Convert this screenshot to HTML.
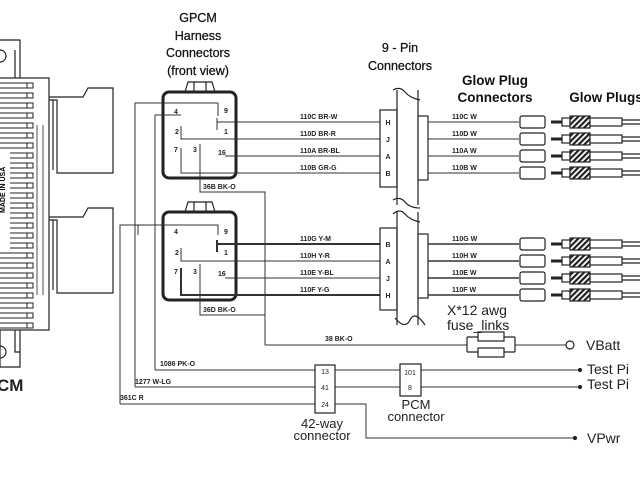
<!DOCTYPE html>
<html><head><meta charset="utf-8"><style>
html,body{margin:0;padding:0;background:#fff;width:640px;height:480px;overflow:hidden}
svg{display:block;font-family:"Liberation Sans",sans-serif}
.s{font-size:7px;font-weight:bold}
</style></head><body>
<svg width="640" height="480" viewBox="0 0 640 480" xmlns="http://www.w3.org/2000/svg">
<rect width="640" height="480" fill="#fff"/>
<defs>
<pattern id="h" width="4" height="4" patternUnits="userSpaceOnUse" patternTransform="rotate(45)"><rect width="4" height="4" fill="#fff"/><rect width="2.2" height="4" fill="#222"/></pattern>
</defs>
<g fill="none" stroke="#222" stroke-width="1.2">
<path d="M0,40 H20 V78"/><path d="M15,50 V78"/>
<rect x="-2" y="78" width="51" height="252"/>
<path d="M0,330 V367 H20 V330"/><path d="M15,330 V352 H20"/>
<circle cx="0" cy="56" r="6"/><circle cx="0" cy="352" r="6"/>
<path d="M49,97 H83 L88,88 H113 V173 H57 V100 H49"/><path d="M53,100 V170"/>
<path d="M49,217 H83 L88,208 H113 V293 H57 V220 H49"/><path d="M53,220 V290"/>
<path d="M37,125 V295 M43,125 V295" stroke-width="0.8"/>
</g>
<g stroke="#222" stroke-width="1" fill="#fff">
<g id="t"><rect x="-2" y="83" width="33" height="5"/><rect x="27" y="83" width="6" height="5"/></g>
<use href="#t" y="10"/><use href="#t" y="20"/><use href="#t" y="30"/><use href="#t" y="40"/><use href="#t" y="50"/><use href="#t" y="60"/><use href="#t" y="70"/><use href="#t" y="80"/><use href="#t" y="90"/><use href="#t" y="100"/><use href="#t" y="110"/><use href="#t" y="120"/><use href="#t" y="130"/><use href="#t" y="140"/><use href="#t" y="150"/><use href="#t" y="160"/><use href="#t" y="170"/><use href="#t" y="180"/><use href="#t" y="190"/><use href="#t" y="200"/><use href="#t" y="210"/><use href="#t" y="220"/><use href="#t" y="230"/><use href="#t" y="240"/>
</g>
<rect x="0" y="150" width="10" height="100" fill="#fff"/>
<text x="2" y="210" class="s" transform="rotate(-90 5 210)">MADE IN USA</text>
<text x="-3" y="391" font-size="17" font-weight="bold" fill="#222">CM</text>

<g font-size="12.5" text-anchor="middle" fill="#111" stroke="#111" stroke-width="0.25">
<text x="198" y="22">GPCM</text><text x="198" y="40">Harness</text><text x="198" y="57">Connectors</text><text x="198" y="75">(front view)</text>
<text x="400" y="52">9 - Pin</text><text x="400" y="70">Connectors</text>
</g>
<g font-size="13.5" text-anchor="middle" fill="#111" font-weight="bold">
<text x="495" y="85">Glow Plug</text><text x="495" y="102">Connectors</text><text x="606" y="102">Glow Plugs</text>
</g>
<g fill="none" stroke="#222">
<rect x="163" y="92" width="73" height="86" rx="6" stroke-width="3"/>
<path d="M185,92 L188,82 H212 L215,92 M194,82 V92 M206,82 V92" stroke-width="1.2"/>
<rect x="163" y="212" width="73" height="88" rx="6" stroke-width="3"/>
<path d="M185,212 L188,202 H212 L215,212 M194,202 V212 M206,202 V212" stroke-width="1.2"/>
</g>
<g font-size="7" fill="#222" font-weight="bold">
<text x="174" y="114">4</text><text x="175" y="134">2</text><text x="174" y="152">7</text><text x="193" y="152">3</text>
<text x="224" y="113">9</text><text x="224" y="134">1</text><text x="218" y="155">16</text>
<text x="174" y="234">4</text><text x="175" y="255">2</text><text x="174" y="274">7</text><text x="193" y="274">3</text>
<text x="224" y="234">9</text><text x="224" y="255">1</text><text x="218" y="276">16</text>
</g>
<g fill="none" stroke="#333" stroke-width="1">
<path d="M135,387 V103 H218 V116"/>
<path d="M155,370 V115 H181"/>
<path d="M120,404 V225 H218 V235"/>
<path d="M138,225 V235"/>
<path d="M217,122 H380 M217,118 V130"/>
<path d="M181,126 V139 H380"/>
<path d="M225,156 H380"/>
<path d="M181,148 V173 H380"/>
<path d="M200,144 V162 M200,162 V192 H265 V345"/>
<path d="M217,244 H380 M217,240 V252" stroke-width="2"/>
<path d="M181,248 V261 H380"/>
<path d="M225,278 H380"/>
<path d="M181,268 V295 H380" stroke-width="2"/>
<path d="M200,264 V284 M200,284 V315 H265"/>
<path d="M265,345 H467"/>
<path d="M515,345 H566"/>
<path d="M155,370 H580"/>
<path d="M135,387 H580"/>
<path d="M120,404 H366 V438 H575"/>
</g>
<g class="s" fill="#222">
<text x="203" y="189">36B BK-O</text>
<text x="203" y="312">36D BK-O</text>
<text x="325" y="341">38 BK-O</text>
<text x="160" y="366">1086 PK-O</text>
<text x="135" y="384">1277 W-LG</text>
<text x="120" y="400">361C R</text>
<text x="300" y="119">110C BR-W</text><text x="300" y="136">110D BR-R</text><text x="300" y="153">110A BR-BL</text><text x="300" y="170">110B GR-G</text>
<text x="300" y="241">110G Y-M</text><text x="300" y="258">110H Y-R</text><text x="300" y="275">110E Y-BL</text><text x="300" y="292">110F Y-G</text>
<text x="452" y="119">110C W</text><text x="452" y="136">110D W</text><text x="452" y="153">110A W</text><text x="452" y="170">110B W</text>
<text x="452" y="241">110G W</text><text x="452" y="258">110H W</text><text x="452" y="275">110E W</text><text x="452" y="292">110F W</text>
</g>
<g fill="#fff" stroke="#222" stroke-width="1.2">
<rect x="380" y="110" width="17" height="77"/>
<path d="M397,90 V205 M418,90 V205" fill="none"/>
<path d="M393,90 Q400,86 405,92 T420,100" fill="none"/><path d="M393,200 Q400,196 405,202 T420,208" fill="none"/>
<rect x="418" y="116" width="10" height="64"/>
<rect x="380" y="228" width="17" height="82"/>
<path d="M397,212 V325 M418,212 V325" fill="none"/>
<path d="M393,214 Q400,208 405,214 T420,222" fill="none"/><path d="M395,318 Q405,330 410,320 T425,325" fill="none"/>
<rect x="418" y="234" width="10" height="64"/>
</g>
<g font-size="7" fill="#222" text-anchor="middle" font-weight="bold">
<text x="388" y="125">H</text><text x="388" y="142">J</text><text x="388" y="159">A</text><text x="388" y="176">B</text>
<text x="388" y="247">B</text><text x="388" y="264">A</text><text x="388" y="281">J</text><text x="388" y="298">H</text>
</g>
<g fill="none" stroke="#333" stroke-width="1">
<path d="M428,122 H519 M428,139 H519 M428,156 H519 M428,173 H519"/>
<path d="M428,244 H519 M428,261 H519 M428,278 H519 M428,295 H519" stroke-width="1.6"/>
</g>
<defs><g id="gp" stroke="#222" stroke-width="1.2">
<rect x="520" y="-6" width="25" height="12" rx="2" fill="#fff"/>
<path d="M551,0 H562" stroke-width="3"/>
<rect x="562" y="-4" width="8" height="8" fill="#fff"/>
<rect x="570" y="-6" width="20" height="12" fill="url(#h)"/>
<rect x="590" y="-4" width="32" height="8" fill="#fff"/>
<path d="M622,-2 H640 M622,2 H640" fill="none"/>
</g></defs>
<use href="#gp" y="122"/><use href="#gp" y="139"/><use href="#gp" y="156"/><use href="#gp" y="173"/>
<use href="#gp" y="244"/><use href="#gp" y="261"/><use href="#gp" y="278"/><use href="#gp" y="295"/>
<g fill="#fff" stroke="#222" stroke-width="1.2">
<path d="M467,337 V352 M467,337 H515 M467,352 H515 M515,337 V352" fill="none"/>
<rect x="478" y="332" width="26" height="9"/><rect x="478" y="348" width="26" height="9"/>
<circle cx="570" cy="345" r="4"/>
<circle cx="580" cy="370" r="1.5" fill="#222"/><circle cx="580" cy="387" r="1.5" fill="#222"/><circle cx="575" cy="438" r="1.5" fill="#222"/>
</g>
<g font-size="14" fill="#222"><text x="447" y="315">X*12  awg</text><text x="447" y="330">fuse_links</text>
<text x="586" y="350">VBatt</text><text x="587" y="374">Test  Pi</text><text x="587" y="389">Test  Pi</text><text x="587" y="443">VPwr</text></g>
<g fill="#fff" stroke="#222" stroke-width="1.2"><rect x="315" y="365" width="20" height="48"/><rect x="400" y="364" width="21" height="32"/></g>
<g font-size="7" fill="#222" text-anchor="middle"><text x="325" y="374">13</text><text x="325" y="390">41</text><text x="325" y="407">24</text><text x="410" y="375">101</text><text x="410" y="390">8</text></g>
<g font-size="13" fill="#222" text-anchor="middle"><text x="322" y="428">42-way</text><text x="322" y="440">connector</text>
<text x="416" y="409">PCM</text><text x="416" y="421">connector</text></g>
</svg>
</body></html>
